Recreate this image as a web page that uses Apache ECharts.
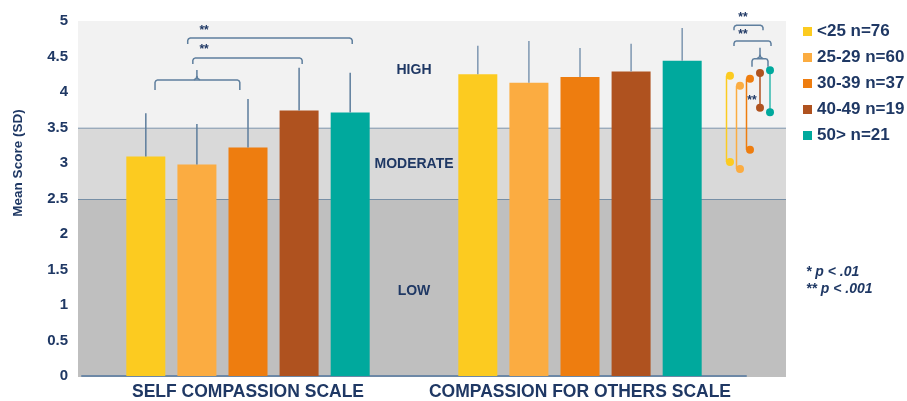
<!DOCTYPE html>
<html>
<head>
<meta charset="utf-8">
<script src="https://cdn.jsdelivr.net/npm/echarts@6/dist/echarts.min.js"></script>
<style>
  html, body { margin: 0; padding: 0; background: #ffffff; }
  #chart { width: 907px; height: 401px; }
</style>
</head>
<body>
<div id="chart"></div>
<script>
// Age groups and the two scales
const ageGroups = ['<25 n=76', '25-29 n=60', '30-39 n=37', '40-49 n=19', '50> n=21'];
const scales = ['SELF COMPASSION SCALE', 'COMPASSION FOR OTHERS SCALE'];

// Mean score and standard deviation per age group
const selfMean   = [3.09, 2.98, 3.22, 3.74, 3.71];
const selfSD     = [0.61, 0.57, 0.68, 0.60, 0.56];
const othersMean = [4.25, 4.13, 4.21, 4.29, 4.44];
const othersSD   = [0.40, 0.59, 0.41, 0.39, 0.46];

// Paired means shown in the small dot panel (self vs. others)
const pairSelf   = [3.02, 2.92, 3.19, 3.78, 3.72];
const pairOthers = [4.23, 4.09, 4.19, 4.27, 4.31];

// Score bands
const bandFrom  = [0, 2.5, 3.5];
const bandTo    = [2.5, 3.5, 5];
const bandNames = ['LOW', 'MODERATE', 'HIGH'];

// Footnotes
const notes = ['* p < .01', '** p < .001'];

const colors = ['#FCCB20', '#FBAC41', '#EE7D0F', '#AF521F', '#00A99D'];
const bandColors = ['#BFBFBF', '#D9D9D9', '#F2F2F2'];
const navy = '#1f3864';
const rule = '#5f7f9e';
const font = 'Arial, "Liberation Sans", Helvetica, sans-serif';

const BAR_W = 39;
const GAP = 0.31;
const SLOT = BAR_W * (1 + GAP);

const chart = echarts.init(document.getElementById('chart'), null, { renderer: 'canvas' });

const barSeries = ageGroups.map((name, g) => ({
  name: name,
  type: 'bar',
  xAxisIndex: 0,
  yAxisIndex: 0,
  barWidth: BAR_W,
  barGap: Math.round(GAP * 100) + '%',
  data: [selfMean[g], othersMean[g]],
  itemStyle: { color: colors[g] },
  z: 2,
  silent: true
}));

const whiskerData = [];
ageGroups.forEach((_, g) => {
  whiskerData.push([0, g, selfMean[g], selfSD[g]]);
  whiskerData.push([1, g, othersMean[g], othersSD[g]]);
});

const option = {
  animation: false,
  backgroundColor: '#ffffff',
  textStyle: { fontFamily: font },
  grid: [
    { left: 82, right: 161, top: 21, bottom: 24 },   // bars
    { left: 725, width: 50, top: 21, bottom: 24 },   // paired dots
    { left: 78, right: 121, top: 21, bottom: 24 }    // score bands
  ],
  xAxis: [
    {
      type: 'category', gridIndex: 0, data: scales,
      axisLine: { lineStyle: { color: '#6d88a6', width: 2 } },
      axisTick: { show: false },
      axisLabel: { interval: 0, color: navy, fontSize: 17.5, fontWeight: 'bold', fontFamily: font, margin: 7 }
    },
    { type: 'value', gridIndex: 1, min: -0.5, max: 4.5, show: false },
    { type: 'value', gridIndex: 2, min: 0, max: 1, show: false }
  ],
  yAxis: [
    {
      type: 'value', gridIndex: 0, min: 0, max: 5, interval: 0.5,
      axisLine: { show: false }, axisTick: { show: false }, splitLine: { show: false },
      axisLabel: { color: navy, fontSize: 15, fontWeight: 'bold', fontFamily: font, margin: 14 }
    },
    { type: 'value', gridIndex: 1, min: 0, max: 5, show: false },
    { type: 'value', gridIndex: 2, min: 0, max: 5, show: false }
  ],
  legend: {
    orient: 'vertical', left: 798, top: 18,
    itemWidth: 9, itemHeight: 9, itemGap: 9, icon: 'rect',
    selectedMode: false,
    data: ageGroups,
    textStyle: { color: navy, fontSize: 17, fontWeight: 'bold', fontFamily: font, lineHeight: 17 }
  },
  series: [
    {
      type: 'custom', xAxisIndex: 2, yAxisIndex: 2, z: 0, silent: true,
      data: bandFrom.map((f, i) => [f, bandTo[i], i]),
      encode: { y: [0, 1] },
      renderItem: function (params, api) {
        const cs = params.coordSys;
        const yTop = api.coord([0, api.value(1)])[1];
        const yBot = api.coord([0, api.value(0)])[1];
        const i = api.value(2);
        const children = [{
          type: 'rect',
          shape: { x: cs.x, y: yTop, width: cs.width, height: yBot - yTop },
          style: { fill: bandColors[i] }
        }];
        if (api.value(1) < 5) {
          children.push({
            type: 'line',
            shape: { x1: cs.x, y1: yTop, x2: cs.x + cs.width, y2: yTop },
            style: { stroke: rule, lineWidth: 1.5 }
          });
        }
        return { type: 'group', children: children };
      }
    },
    ...barSeries,
    {
      type: 'custom', xAxisIndex: 0, yAxisIndex: 0, z: 3, silent: true,
      data: whiskerData,
      encode: { x: 0, y: [2, 3] },
      renderItem: function (params, api) {
        const cat = api.value(0), g = api.value(1), m = api.value(2), sd = api.value(3);
        const base = api.coord([cat, m]);
        const top = api.coord([cat, m + sd]);
        const x = base[0] + (g - 2) * SLOT;
        return {
          type: 'line',
          shape: { x1: x, y1: base[1], x2: x, y2: top[1] },
          style: { stroke: cat === 0 ? '#5d7d9c' : '#7e97b1', lineWidth: 1.5 }
        };
      }
    },
    {
      type: 'custom', xAxisIndex: 1, yAxisIndex: 1, z: 3, silent: true,
      data: ageGroups.map((_, g) => [g, pairSelf[g], pairOthers[g]]),
      encode: { x: 0, y: [1, 2] },
      renderItem: function (params, api) {
        const g = api.value(0);
        const pTop = api.coord([g, api.value(2)]);
        const pBot = api.coord([g, api.value(1)]);
        const off = g < 3 ? -3.5 : 0;
        const c = colors[g];
        return {
          type: 'group',
          children: [
            { type: 'line', shape: { x1: pTop[0] + off, y1: pTop[1], x2: pBot[0] + off, y2: pBot[1] },
              style: { stroke: c, lineWidth: g === 4 ? 1.2 : 1.5 } },
            { type: 'circle', shape: { cx: pTop[0], cy: pTop[1], r: 4 }, style: { fill: c } },
            { type: 'circle', shape: { cx: pBot[0], cy: pBot[1], r: 4 }, style: { fill: c } }
          ]
        };
      }
    }
  ]
};

chart.setOption(option);

// Annotations: band names, significance brackets, axis title, footnotes
function barX(cat, slot) {
  return chart.convertToPixel({ xAxisIndex: 0, yAxisIndex: 0 }, [cat, 0])[0] + (slot - 2) * SLOT;
}
function yPx(v) {
  return chart.convertToPixel({ xAxisIndex: 0, yAxisIndex: 0 }, [0, v])[1];
}
function dotX(i) {
  return chart.convertToPixel({ xAxisIndex: 1, yAxisIndex: 1 }, [i, 0])[0];
}

const graphics = [];
const lineStyle = { stroke: rule, lineWidth: 1.5, fill: null };
const starStyle = { fill: navy, font: 'bold 12px ' + font, align: 'center', verticalAlign: 'middle' };

// a bracket: horizontal bar with softened corners, optional centre tip
function addBracket(x1, x2, y, drop, tipX, tipLen) {
  const r = 2.5;
  graphics.push({
    type: 'polyline', z: 10, silent: true,
    shape: { points: [
      [x1, y + drop], [x1, y + r], [x1 + 0.8, y + 0.8], [x1 + r, y],
      [x2 - r, y], [x2 - 0.8, y + 0.8], [x2, y + r], [x2, y + drop]
    ] },
    style: lineStyle
  });
  if (tipX !== undefined) {
    graphics.push({
      type: 'polyline', z: 10, silent: true,
      shape: { points: [[tipX - 3, y], [tipX - 0.7, y - 1.5], [tipX, y - 4], [tipX, y - tipLen]] },
      style: lineStyle
    });
    graphics.push({
      type: 'polyline', z: 10, silent: true,
      shape: { points: [[tipX + 3, y], [tipX + 0.7, y - 1.5], [tipX, y - 4]] },
      style: lineStyle
    });
  }
}

// band names between the two scale groups
const midX = (barX(0, 2) + barX(1, 2)) / 2;
const bandLabelLevel = [1.19, 2.98, 4.31];
bandNames.forEach((name, i) => {
  graphics.push({
    type: 'text', z: 10, silent: true,
    style: { x: midX, y: yPx(bandLabelLevel[i]), text: name, fill: navy,
             font: 'bold 14px ' + font, align: 'center', verticalAlign: 'middle' }
  });
});

// brackets over the self-compassion group
const selfBrackets = [
  { from: 0.18, to: 1.84, level: 4.17, drop: 10, tip: 1.0, tipLen: 10 },
  { from: 0.92, to: 3.06, level: 4.48, drop: 6, star: 4.59 },
  { from: 0.82, to: 4.04, level: 4.76, drop: 6, star: 4.87 }
];
selfBrackets.forEach(b => {
  addBracket(barX(0, b.from), barX(0, b.to), yPx(b.level), b.drop,
             b.tip !== undefined ? barX(0, b.tip) : undefined, b.tipLen);
  if (b.star) {
    graphics.push({ type: 'text', z: 10, silent: true,
      style: Object.assign({ x: barX(0, 1.14), y: yPx(b.star), text: '**' }, starStyle) });
  }
});

// brackets over the paired-dot panel
const dotBrackets = [
  { from: 0.4, to: 3.3, level: 4.94, drop: 5, star: 5.04 },
  { from: 0.4, to: 4.1, level: 4.72, drop: 5, star: 4.81 },
  { from: 2.2, to: 3.8, level: 4.47, drop: 8, tip: 3.0, tipLen: 11 }
];
dotBrackets.forEach(b => {
  addBracket(dotX(b.from), dotX(b.to), yPx(b.level), b.drop,
             b.tip !== undefined ? dotX(b.tip) : undefined, b.tipLen);
  if (b.star) {
    graphics.push({ type: 'text', z: 10, silent: true,
      style: Object.assign({ x: dotX(1.3), y: yPx(b.star), text: '**' }, starStyle) });
  }
});
graphics.push({ type: 'text', z: 10, silent: true,
  style: Object.assign({ x: dotX(2.2), y: yPx(3.88), text: '**' }, starStyle) });

// y-axis title
graphics.push({
  type: 'text', z: 10, silent: true,
  x: 18, y: 163, rotation: Math.PI / 2,
  style: { x: 0, y: 0, text: 'Mean Score (SD)', fill: navy, font: 'bold 13.5px ' + font,
           align: 'center', verticalAlign: 'middle' }
});

// footnotes
notes.forEach((t, i) => {
  graphics.push({
    type: 'text', z: 10, silent: true,
    style: { x: 806, y: 272 + i * 17, text: t, fill: navy, font: 'italic bold 14px ' + font,
             align: 'left', verticalAlign: 'middle' }
  });
});

chart.setOption({ graphic: graphics });
</script>
</body>
</html>
